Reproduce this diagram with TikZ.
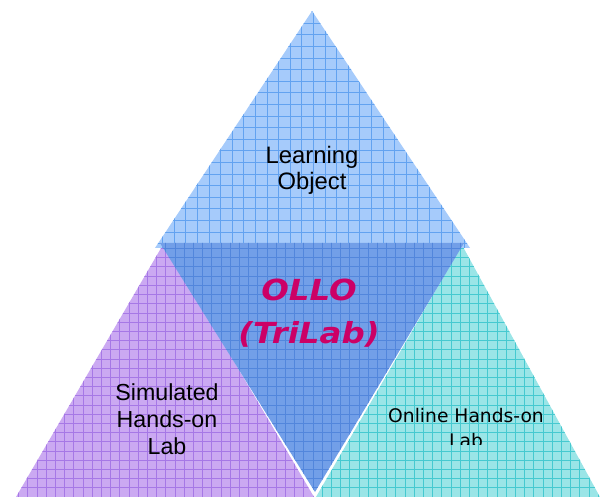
\documentclass[tikz,border=0pt]{standalone}
\usepackage{fontspec}
\setmainfont{Liberation Sans}
\newfontfamily\dvs{DejaVu Sans}
\newfontfamily\dvsx[FakeStretch=1.12]{DejaVu Sans}
\definecolor{topfill}{HTML}{A6CBFB}
\definecolor{topgrid}{HTML}{62A2F0}
\definecolor{leftfill}{HTML}{CBA9F2}
\definecolor{leftgrid}{HTML}{A678E6}
\definecolor{rightfill}{HTML}{9AE5E7}
\definecolor{rightgrid}{HTML}{45C9D0}
\definecolor{midfill}{HTML}{729FE8}
\definecolor{midgrid}{HTML}{5286DC}
\definecolor{ollo}{HTML}{CC0066}
\begin{document}
\begin{tikzpicture}[x=1pt,y=-1pt,
  lbl/.style={align=center,text=black,inner sep=0pt},
  gridline/.style={line width=0.6pt}]
\useasboundingbox (0,0) rectangle (600,497);
% left triangle
\coordinate (la) at (164,243);
\coordinate (lb) at (16,497);
\coordinate (lc) at (314,497);
\fill[leftfill] (la) -- (lb) -- (lc) -- cycle;
\begin{scope}
\clip (la) -- (lb) -- (lc) -- cycle;
\draw[leftgrid,gridline,step=9.2pt] (0,0) grid (600,497);
\end{scope}
% right triangle
\coordinate (ra) at (462,245);
\coordinate (rb) at (316,497);
\coordinate (rc) at (600,497);
\fill[rightfill] (ra) -- (rb) -- (rc) -- cycle;
\begin{scope}
\clip (ra) -- (rb) -- (rc) -- cycle;
\draw[rightgrid,gridline,step=9.2pt] (0,0) grid (600,497);
\end{scope}
% top triangle
\coordinate (ta) at (312,11);
\coordinate (tb) at (155,248);
\coordinate (tc) at (470,248);
\fill[topfill] (ta) -- (tb) -- (tc) -- cycle;
\begin{scope}
\clip (ta) -- (tb) -- (tc) -- cycle;
\draw[topgrid,gridline,step=11.6pt] (0,0) grid (600,497);
\end{scope}
% center triangle
\coordinate (ma) at (160,243);
\coordinate (mb) at (464,243);
\coordinate (mc) at (315,492);
\fill[midfill] (ma) -- (mb) -- (mc) -- cycle;
\begin{scope}
\clip (ma) -- (mb) -- (mc) -- cycle;
\draw[midgrid,gridline,step=9.2pt] (0,0) grid (600,497);
\end{scope}
% labels
\node[lbl,font=\fontsize{23.8}{26}\selectfont] (lo) at (312,170) {Learning\\Object};
\node[lbl,font=\fontsize{23.2}{27}\selectfont] (sim) at (167,419) {Simulated\\Hands-on\\Lab};
\node[lbl,font=\dvsx\bfseries\itshape\fontsize{29}{43}\selectfont,text=ollo] (ol) at (309,313) {OLLO\\(TriLab)};
\node[lbl,font=\dvs\fontsize{18.7}{24}\selectfont,anchor=base] (onl) at (466,422) {Online Hands-on};
\begin{scope}
\clip (380,425) rectangle (560,444);
\node[lbl,font=\dvs\fontsize{18.7}{24}\selectfont,anchor=base] (onl2) at (466,447) {Lab};
\end{scope}
\end{tikzpicture}
\end{document}
